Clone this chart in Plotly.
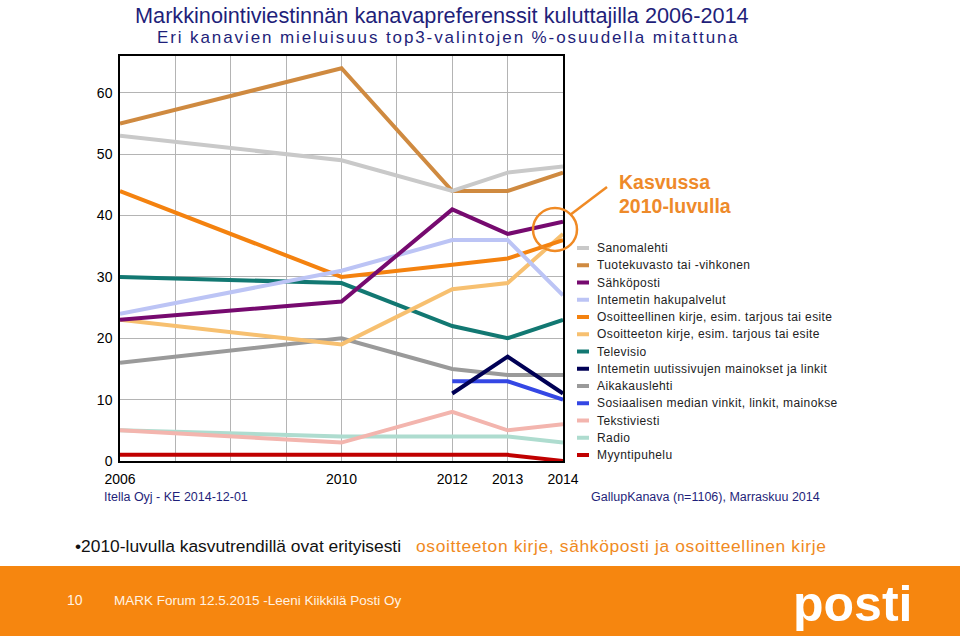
import plotly.graph_objects as go

# ---------------- data ----------------
years = [2006, 2010, 2012, 2013, 2014]

series_names = [
    "Sanomalehti",
    "Tuotekuvasto tai -vihkonen",
    "Sähköposti",
    "Intemetin hakupalvelut",
    "Osoitteellinen kirje, esim. tarjous tai esite",
    "Osoitteeton kirje, esim. tarjous tai esite",
    "Televisio",
    "Intemetin uutissivujen mainokset ja linkit",
    "Aikakauslehti",
    "Sosiaalisen median vinkit, linkit, mainokse",
    "Tekstiviesti",
    "Radio",
    "Myyntipuhelu",
]

sanomalehti = [53, 49, 44, 47, 48]
tuotekuvasto = [55, 64, 44, 44, 47]
sahkoposti = [23, 26, 41, 37, 39]
hakupalvelut = [24, 31, 36, 36, 27]
osoitteellinen = [44, 30, 32, 33, 36]
osoitteeton = [23, 19, 28, 29, 37]
televisio = [30, 29, 22, 20, 23]
uutissivut = [None, None, 11, 17, 11]
aikakauslehti = [16, 20, 15, 14, 14]
sosiaalinen_media = [None, None, 13, 13, 10]
tekstiviesti = [5, 3, 8, 5, 6]
radio = [5, 4, 4, 4, 3]
myyntipuhelu = [1, 1, 1, 1, 0]

series_values = [sanomalehti, tuotekuvasto, sahkoposti, hakupalvelut, osoitteellinen,
                 osoitteeton, televisio, uutissivut, aikakauslehti, sosiaalinen_media,
                 tekstiviesti, radio, myyntipuhelu]

series_colors = ["#c9c9c9", "#cf8a40", "#760a6f", "#bcc4f5", "#f4820f", "#f7c070",
                 "#127872", "#000055", "#9a9a9a", "#3447e4", "#f3b5ae", "#aedccf", "#c00000"]

x_tick_vals = [2006, 2007, 2008, 2009, 2010, 2011, 2012, 2013, 2014]
x_tick_text = ["2006", "", "", "", "2010", "", "2012", "2013", "2014"]
y_tick_vals = [0, 10, 20, 30, 40, 50, 60]

# ---------------- layout geometry ----------------
W, H = 960, 636
L, R, T, B = 120, 563, 56, 461


def px(xp):
    return (xp - L) / (R - L)


def py(yp):
    return (B - yp) / (B - T)


SANS = "Liberation Sans, Arial, sans-serif"


def spaced(text, sp):
    return '<span style="letter-spacing:%spx">%s</span>' % (sp, text)


fig = go.Figure()
for name, vals, col in reversed(list(zip(series_names, series_values, series_colors))):
    fig.add_trace(go.Scatter(x=years, y=vals, mode="lines", name=name,
                             line=dict(color=col, width=4), showlegend=False,
                             connectgaps=False, hoverinfo="x+y+name"))

shapes = []
annotations = []

# manual legend
for i, (name, col) in enumerate(zip(series_names, series_colors)):
    yc = 248 + i * 17.25
    shapes.append(dict(type="line", xref="paper", yref="paper",
                       x0=px(577), x1=px(589), y0=py(yc), y1=py(yc),
                       line=dict(color=col, width=4)))
    annotations.append(dict(xref="paper", yref="paper", x=px(595), y=py(yc),
                            xanchor="left", yanchor="middle", showarrow=False,
                            text=spaced(name, 0.4),
                            font=dict(family=SANS, size=12, color="#222222")))

# orange band at the bottom
shapes.append(dict(type="rect", xref="paper", yref="paper", layer="below",
                   x0=px(0), x1=px(W), y0=py(566), y1=py(H + 2),
                   fillcolor="#f6860f", line=dict(width=0)))

# highlight circle + pointer
shapes.append(dict(type="circle", xref="paper", yref="paper",
                   x0=px(533), x1=px(577), y0=py(208), y1=py(251),
                   line=dict(color="#f08a24", width=2.5)))
shapes.append(dict(type="line", xref="paper", yref="paper",
                   x0=px(570), x1=px(607), y0=py(215), y1=py(187),
                   line=dict(color="#f08a24", width=2.5)))

annotations += [
    dict(xref="paper", yref="paper", x=px(133), y=py(15), xanchor="left", yanchor="middle",
         showarrow=False, text="Markkinointiviestinnän kanavapreferenssit kuluttajilla 2006-2014",
         font=dict(family=SANS, size=21.7, color="#1f1f7a")),
    dict(xref="paper", yref="paper", x=px(742), y=py(38), xanchor="right", yanchor="middle",
         showarrow=False,
         text=spaced("Eri kanavien mieluisuus top3-valintojen %-osuudella mitattuna", 1.9),
         font=dict(family=SANS, size=17, color="#1f1f7a")),
    dict(xref="paper", yref="paper", x=px(617), y=py(182), xanchor="left", yanchor="middle",
         showarrow=False, text="<b>Kasvussa</b>",
         font=dict(family=SANS, size=19.5, color="#ee8a2a")),
    dict(xref="paper", yref="paper", x=px(617), y=py(206), xanchor="left", yanchor="middle",
         showarrow=False, text="<b>2010-luvulla</b>",
         font=dict(family=SANS, size=19.5, color="#ee8a2a")),
    dict(xref="paper", yref="paper", x=px(102), y=py(497), xanchor="left", yanchor="middle",
         showarrow=False, text="Itella Oyj - KE 2014-12-01",
         font=dict(family=SANS, size=12.5, color="#1f1f7a")),
    dict(xref="paper", yref="paper", x=px(822), y=py(497), xanchor="right", yanchor="middle",
         showarrow=False, text="GallupKanava (n=1106), Marraskuu 2014",
         font=dict(family=SANS, size=12.5, color="#1f1f7a")),
    dict(xref="paper", yref="paper", x=px(73), y=py(546), xanchor="left", yanchor="middle",
         showarrow=False, text="•2010-luvulla kasvutrendillä ovat erityisesti",
         font=dict(family=SANS, size=17.4, color="#111111")),
    dict(xref="paper", yref="paper", x=px(414), y=py(546), xanchor="left", yanchor="middle",
         showarrow=False,
         text=spaced("osoitteeton kirje, sähköposti ja osoitteellinen kirje", 0.65),
         font=dict(family=SANS, size=17.4, color="#f08a1e")),
    dict(xref="paper", yref="paper", x=px(65), y=py(600), xanchor="left", yanchor="middle",
         showarrow=False, text="10",
         font=dict(family=SANS, size=14, color="#fff3e4")),
    dict(xref="paper", yref="paper", x=px(112), y=py(600), xanchor="left", yanchor="middle",
         showarrow=False, text="MARK Forum 12.5.2015 -Leeni Kiikkilä Posti Oy",
         font=dict(family=SANS, size=13.5, color="#fff3e4")),
    dict(xref="paper", yref="paper", x=px(852), y=py(604), xanchor="center", yanchor="middle",
         showarrow=False, text="<b>posti</b>",
         font=dict(family=SANS, size=50, color="#ffffff")),
]

fig.update_layout(
    width=W, height=H,
    margin=dict(l=L, r=W - R, t=T, b=H - B, pad=0),
    paper_bgcolor="white", plot_bgcolor="white",
    showlegend=False,
    shapes=shapes,
    annotations=annotations,
    xaxis=dict(range=[2006, 2014], tickmode="array", tickvals=x_tick_vals, ticktext=x_tick_text,
               showgrid=True, gridcolor="#b4b4b4", gridwidth=1, zeroline=False,
               showline=True, mirror=True, linecolor="#000000", linewidth=1.5,
               ticks="", ticklabelstandoff=4,
               tickfont=dict(family=SANS, size=14, color="#000000")),
    yaxis=dict(range=[0, 66], tickmode="array", tickvals=y_tick_vals,
               showgrid=True, gridcolor="#b4b4b4", gridwidth=1, zeroline=False,
               showline=True, mirror=True, linecolor="#000000", linewidth=1.5,
               ticks="", ticklabelstandoff=3,
               tickfont=dict(family=SANS, size=14, color="#000000")),
)

fig.write_html("out.html", config={"displayModeBar": False},
               post_script="document.body.style.margin='0';")
